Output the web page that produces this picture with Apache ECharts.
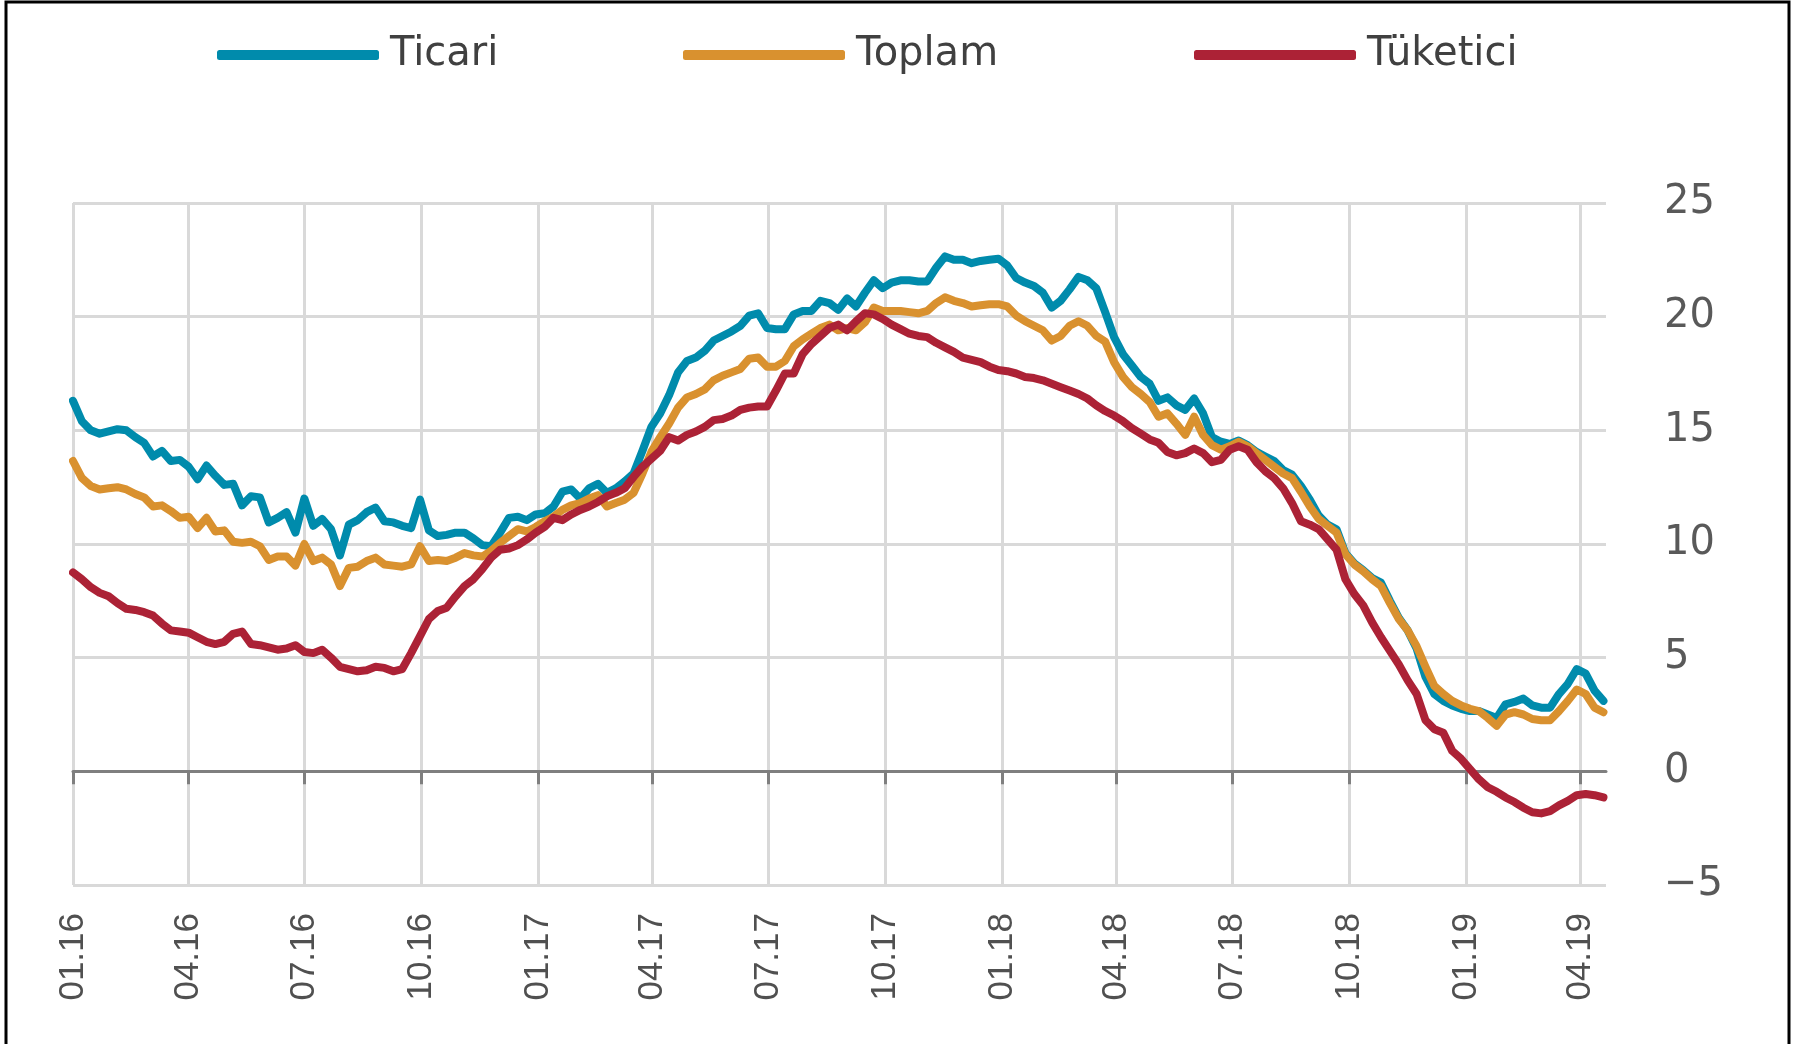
<!DOCTYPE html>
<html>
<head>
<meta charset="utf-8">
<script src="https://cdn.jsdelivr.net/npm/echarts@6/dist/echarts.min.js"></script>
<style>
  html, body { margin: 0; padding: 0; background: #fff; }
  #chart { width: 1802px; height: 1044px; }
</style>
</head>
<body>
<div id="chart"></div>
<script>
// weekly series, first week 2016-01-01
const ticari = [
  16.3, 15.4, 15.0, 14.85, 14.95, 15.05, 15.0, 14.7, 14.45, 13.85,
  14.1, 13.65, 13.7, 13.4, 12.85, 13.45, 13.0, 12.6, 12.65, 11.7,
  12.1, 12.05, 10.95, 11.15, 11.4, 10.5, 12.0, 10.8, 11.1, 10.65,
  9.5, 10.85, 11.05, 11.4, 11.6, 11.0, 10.95, 10.8, 10.7, 11.95,
  10.6, 10.35, 10.4, 10.5, 10.5, 10.25, 9.95, 9.9, 10.5, 11.15,
  11.2, 11.05, 11.3, 11.35, 11.65, 12.3, 12.4, 12.0, 12.45, 12.65,
  12.25, 12.45, 12.75, 13.1, 14.1, 15.15, 15.75, 16.55, 17.55, 18.05,
  18.2, 18.5, 18.95, 19.15, 19.35, 19.6, 20.05, 20.15, 19.5, 19.45,
  19.45, 20.1, 20.25, 20.25, 20.7, 20.6, 20.3, 20.8, 20.45, 21.05,
  21.6, 21.25, 21.5, 21.6, 21.6, 21.55, 21.55, 22.15, 22.65, 22.5,
  22.5, 22.35, 22.45, 22.5, 22.55, 22.25, 21.7, 21.5, 21.35, 21.05,
  20.4, 20.7, 21.2, 21.75, 21.6, 21.25, 20.2, 19.1, 18.35, 17.85,
  17.35, 17.05, 16.3, 16.45, 16.1, 15.9, 16.4, 15.75, 14.7, 14.5,
  14.4, 14.55, 14.35, 14.05, 13.85, 13.65, 13.25, 13.05, 12.55, 11.95,
  11.25, 10.85, 10.65, 9.6, 9.15, 8.85, 8.5, 8.3, 7.5, 6.75,
  6.2, 5.4, 4.15, 3.4, 3.1, 2.9, 2.75, 2.65, 2.65, 2.5,
  2.35, 2.95, 3.05, 3.2, 2.9, 2.8, 2.8, 3.4, 3.85, 4.5,
  4.3, 3.55, 3.1
];
const toplam = [
  13.65, 12.9, 12.55, 12.4, 12.45, 12.5, 12.4, 12.2, 12.05, 11.65,
  11.7, 11.45, 11.15, 11.2, 10.7, 11.15, 10.55, 10.6, 10.1, 10.05,
  10.1, 9.9, 9.3, 9.45, 9.45, 9.05, 10.0, 9.25, 9.4, 9.1,
  8.15, 8.95, 9.0, 9.25, 9.4, 9.1, 9.05, 9.0, 9.1, 9.9,
  9.25, 9.3, 9.25, 9.4, 9.6, 9.5, 9.45, 9.7, 10.05, 10.35,
  10.65, 10.55, 10.75, 11.0, 11.2, 11.5, 11.7, 11.8, 12.0, 12.15,
  11.65, 11.8, 11.95, 12.25, 13.1, 14.05, 14.7, 15.3, 16.0, 16.45,
  16.6, 16.8, 17.2, 17.4, 17.55, 17.7, 18.15, 18.2, 17.8, 17.8,
  18.05, 18.7, 19.0, 19.25, 19.5, 19.65, 19.4, 19.5, 19.4, 19.75,
  20.4, 20.25, 20.25, 20.25, 20.2, 20.15, 20.25, 20.6, 20.85, 20.7,
  20.6, 20.45, 20.5, 20.55, 20.55, 20.45, 20.05, 19.8, 19.6, 19.4,
  18.95, 19.15, 19.6, 19.8, 19.6, 19.15, 18.9, 18.0, 17.35, 16.9,
  16.6, 16.25, 15.6, 15.75, 15.3, 14.8, 15.6, 14.8, 14.35, 14.15,
  14.3, 14.5, 14.3, 14.0, 13.7, 13.4, 13.1, 12.9, 12.3, 11.65,
  11.1, 10.8, 10.5, 9.55, 9.1, 8.8, 8.45, 8.15, 7.4, 6.7,
  6.2, 5.5, 4.6, 3.75, 3.4, 3.1, 2.9, 2.75, 2.65, 2.35,
  2.0, 2.5, 2.6, 2.5, 2.3, 2.25, 2.25, 2.65, 3.1, 3.6,
  3.4, 2.8, 2.6
];
const tuketici = [
  8.75, 8.45, 8.1, 7.85, 7.7, 7.4, 7.15, 7.1, 7.0, 6.85,
  6.5, 6.2, 6.15, 6.1, 5.9, 5.7, 5.6, 5.7, 6.05, 6.15,
  5.6, 5.55, 5.45, 5.35, 5.4, 5.55, 5.25, 5.2, 5.35, 5.0,
  4.6, 4.5, 4.4, 4.45, 4.6, 4.55, 4.4, 4.5, 5.2, 5.95,
  6.7, 7.05, 7.2, 7.7, 8.15, 8.45, 8.9, 9.4, 9.75, 9.8,
  9.95, 10.2, 10.5, 10.75, 11.15, 11.05, 11.3, 11.5, 11.65, 11.85,
  12.1, 12.25, 12.45, 12.95, 13.4, 13.75, 14.1, 14.7, 14.55, 14.8,
  14.95, 15.15, 15.45, 15.5, 15.65, 15.9, 16.0, 16.05, 16.05, 16.75,
  17.5, 17.5, 18.35, 18.8, 19.15, 19.5, 19.65, 19.4, 19.8, 20.15,
  20.1, 19.9, 19.65, 19.45, 19.25, 19.15, 19.1, 18.85, 18.65, 18.45,
  18.2, 18.1, 18.0, 17.8, 17.65, 17.6, 17.5, 17.35, 17.3, 17.2,
  17.05, 16.9, 16.75, 16.6, 16.4, 16.1, 15.85, 15.65, 15.4, 15.1,
  14.85, 14.6, 14.45, 14.05, 13.9, 14.0, 14.2, 14.0, 13.6, 13.7,
  14.15, 14.3, 14.15, 13.6, 13.2, 12.9, 12.45, 11.8, 11.0, 10.85,
  10.65, 10.2, 9.75, 8.45, 7.8, 7.3, 6.55, 5.9, 5.3, 4.7,
  4.0, 3.4, 2.25, 1.85, 1.7, 0.9, 0.55, 0.1, -0.35, -0.7,
  -0.9, -1.15, -1.35, -1.6, -1.8, -1.85, -1.75, -1.5, -1.3, -1.05,
  -1.0, -1.05, -1.15
];

const tickDates = [
  '2016-01-01', '2016-04-01', '2016-07-01', '2016-10-01',
  '2017-01-01', '2017-04-01', '2017-07-01', '2017-10-01',
  '2018-01-01', '2018-04-01', '2018-07-01', '2018-10-01',
  '2019-01-01', '2019-04-01'
];
const yTicks = [-5, 0, 5, 10, 15, 20, 25];

const startDay = Date.parse('2016-01-01');
const endDay = Date.parse('2019-04-21');
const WEEK = 7 * 24 * 3600 * 1000;
const weeks = ticari.map((_, i) => startDay + i * WEEK);
const ticks = tickDates.map(d => Date.parse(d));

const fmtTick = v => {
  const d = new Date(v);
  const mm = String(d.getUTCMonth() + 1).padStart(2, '0');
  const yy = String(d.getUTCFullYear()).slice(2);
  return mm + '.' + yy;
};

const colors = { ticari: '#008bac', toplam: '#d9912f', tuketici: '#ac2236' };

const mkSeries = (name, vals, color) => ({
  name,
  type: 'line',
  xAxisIndex: 0,
  data: weeks.map((t, i) => [t, vals[i]]),
  showSymbol: false,
  symbol: 'none',
  lineStyle: { color, width: 8, join: 'round', cap: 'round' },
  itemStyle: { color },
  emphasis: { disabled: true }
});

const mkLegend = (name, left) => ({
  data: [name],
  left,
  top: 30,
  icon: 'roundRect',
  itemWidth: 162,
  itemHeight: 10,
  textStyle: { fontFamily: 'DejaVu Sans', fontSize: 40, color: '#404040', padding: [0, 0, 0, 6] }
});

const chart = echarts.init(document.getElementById('chart'));
chart.setOption({
  animation: false,
  backgroundColor: '#ffffff',
  graphic: [{
    type: 'rect',
    shape: { x: 6, y: 2, width: 1783, height: 1100 },
    style: { fill: 'none', stroke: '#000', lineWidth: 3 },
    silent: true
  }],
  legend: [
    mkLegend('Ticari', 212),
    mkLegend('Toplam', 678),
    mkLegend('Tüketici', 1189)
  ],
  grid: { left: 73, right: 196, top: 203, bottom: 159 },
  xAxis: [{
    type: 'value',
    min: startDay,
    max: endDay,
    axisLine: { onZero: true, lineStyle: { color: '#7f7f7f', width: 3 } },
    axisTick: { show: true, length: 13, customValues: ticks, lineStyle: { color: '#7f7f7f', width: 3 } },
    axisLabel: { show: false, customValues: ticks },
    splitLine: { show: true, lineStyle: { color: '#d9d9d9', width: 3 } }
  }, {
    type: 'value',
    position: 'bottom',
    min: startDay,
    max: endDay,
    axisLine: { show: false, onZero: false },
    axisTick: { show: false, customValues: ticks },
    splitLine: { show: false },
    axisLabel: {
      customValues: ticks,
      rotate: 90,
      margin: 28,
      formatter: fmtTick,
      fontFamily: 'Liberation Sans, sans-serif',
      fontSize: 35,
      color: '#505050'
    }
  }],
  yAxis: {
    type: 'value',
    position: 'right',
    min: yTicks[0],
    max: yTicks[yTicks.length - 1],
    interval: 5,
    axisLine: { show: false },
    axisTick: { show: false },
    axisLabel: {
      margin: 58,
      fontFamily: 'DejaVu Sans',
      fontSize: 40,
      color: '#595959',
      formatter: v => String(v).replace('-', '\u2212')
    },
    splitLine: { lineStyle: { color: '#d9d9d9', width: 3 } }
  },
  series: [
    mkSeries('Ticari', ticari, colors.ticari),
    mkSeries('Toplam', toplam, colors.toplam),
    mkSeries('Tüketici', tuketici, colors.tuketici)
  ]
});
</script>
</body>
</html>
